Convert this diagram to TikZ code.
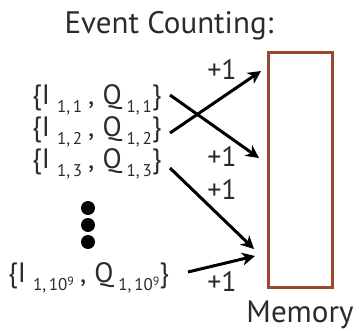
\documentclass[tikz,border=0pt]{standalone}
\usepackage{fontspec}
\setmainfont{PT Sans}
\usetikzlibrary{arrows.meta}
\definecolor{txt}{HTML}{2B2B2B}
\definecolor{mem}{HTML}{9A4A2A}
\newcommand\subtxt[1]{\raisebox{-8pt}{\fontsize{17}{17}\selectfont #1}}
\newcommand\suptxt[1]{\raisebox{5pt}{\fontsize{12}{12}\selectfont #1}}
\newcommand\pairlbl[1]{\{I\hspace{7pt}\subtxt{#1}\hspace{6pt},\hspace{8pt}Q\hspace{5pt}\subtxt{#1}\}}
\begin{document}
\begin{tikzpicture}[x=1pt,y=-1pt,
  lbl/.style={text=txt,inner sep=0pt,font=\fontsize{28}{30}\selectfont},
  big/.style={text=txt,inner sep=0pt,font=\fontsize{31}{33}\selectfont},
  plus/.style={text=txt,inner sep=0pt,font=\fontsize{28}{30}\selectfont},
  arr/.style={line width=3pt,-{Stealth[length=13pt,width=13pt,inset=4pt]}},
  dotc/.style={circle,fill=black,inner sep=0pt,minimum size=14pt}]
\useasboundingbox (0,0) rectangle (359,331);
\node[big,anchor=base] (title) at (169,34) {Event Counting:};
\node[draw=mem,line width=3pt,minimum width=64pt,minimum height=235pt,inner sep=0pt] (m) at (300.5,170) {};
\node[big,anchor=base] (memlbl) at (300,323) {Memory};
\node[lbl,anchor=base west] (r1) at (32,105) {\pairlbl{1,\,1}};
\node[lbl,anchor=base west] (r2) at (32,137) {\pairlbl{1,\,2}};
\node[lbl,anchor=base west] (r3) at (32,169) {\pairlbl{1,\,3}};
\node[lbl,anchor=base west] (r4) at (8,283) {\pairlbl{1,\,10\suptxt{9}}};
\node[dotc] (d1) at (88,208) {};
\node[dotc] (d2) at (88,225) {};
\node[dotc] (d3) at (88,242) {};
\node[plus] (p1) at (222,70) {+1};
\node[plus] (p2) at (222,157) {+1};
\node[plus] (p3) at (222,190) {+1};
\node[plus] (p4) at (222,282) {+1};
\coordinate (s1) at (170,95);
\coordinate (s2) at (170,133);
\coordinate (s3) at (170,168);
\coordinate (s4) at (188,272);
\coordinate (t1) at (259,158);
\coordinate (t2) at (261,71);
\coordinate (t3) at (254,249);
\coordinate (t4) at (255,256);
\draw[arr] (s1) -- (t1);
\draw[arr] (s2) -- (t2);
\draw[arr] (s3) -- (t3);
\draw[arr] (s4) -- (t4);
\end{tikzpicture}
\end{document}
